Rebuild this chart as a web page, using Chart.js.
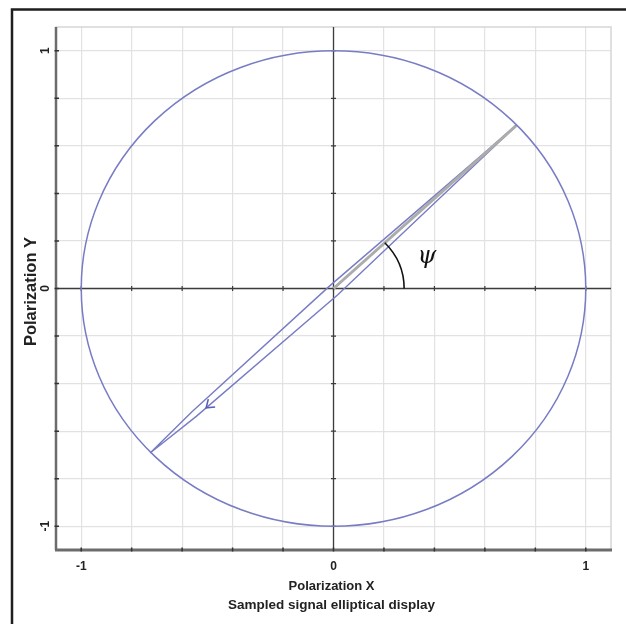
<!DOCTYPE html>
<html>
<head>
<meta charset="utf-8">
<script src="https://cdn.jsdelivr.net/npm/chart.js@4.4.1/dist/chart.umd.min.js"></script>
<style>
  html, body { margin: 0; padding: 0; background: #ffffff; }
  #wrap { width: 626px; height: 624px; }
</style>
</head>
<body>
<div id="wrap"><canvas id="c" width="626" height="624"></canvas></div>
<script>
// Grid / tick values (both axes share the same normalised range)
const gridTicks = [-1, -0.8, -0.6, -0.4, -0.2, 0, 0.2, 0.4, 0.6, 0.8, 1];
const labelTicks = [-1, 0, 1];
const axisRange = [-1.1, 1.1];

// Sampled polarisation trace (closed loop, in traversal order)
const traceX = [0.723, 0.017, -0.544, -0.727, -0.561, -0.015, 0.723];
const traceY = [0.684, -0.026, -0.538, -0.692, -0.518, 0.011, 0.684];

// Orientation vector from origin to the major-axis tip
const vectorX = [0, 0.723];
const vectorY = [0, 0.684];

// Reference unit circle and the psi angle marker
const unitRadius = [1];
const psiRadius = [0.28];
const psiLabelAt = [0.37, 0.135];

// Direction arrow: on trace segment 1, 93% along it
const arrowSegment = [1, 0.93];

const toPoints = (xs, ys) => xs.map((x, i) => ({ x: x, y: ys[i] }));

const traceColor = '#777cc4';
const ink = '#222222';

const decorations = {
  id: 'decorations',
  beforeDraw(chart) {
    const ctx = chart.ctx;
    ctx.save();
    ctx.fillStyle = '#ffffff';
    ctx.fillRect(0, 0, chart.width, chart.height);
    // outer frame (top and left edges)
    ctx.strokeStyle = '#1e1e1e';
    ctx.lineWidth = 2.5;
    ctx.beginPath();
    ctx.moveTo(chart.width, 9.5);
    ctx.lineTo(12, 9.5);
    ctx.lineTo(12, chart.height);
    ctx.stroke();
    ctx.restore();
  },
  beforeDatasetsDraw(chart) {
    const ctx = chart.ctx;
    const xs = chart.scales.x, ys = chart.scales.y;
    const a = chart.chartArea;
    ctx.save();
    // light outline of the plotting area
    ctx.strokeStyle = '#d6d6d6';
    ctx.lineWidth = 1.5;
    ctx.strokeRect(a.left, a.top, a.right - a.left, a.bottom - a.top);

    // zero axes
    const x0 = xs.getPixelForValue(0), y0 = ys.getPixelForValue(0);
    ctx.strokeStyle = '#3c3c3c';
    ctx.lineWidth = 1.3;
    ctx.beginPath();
    ctx.moveTo(a.left, y0); ctx.lineTo(a.right, y0);
    ctx.moveTo(x0, a.top); ctx.lineTo(x0, a.bottom);
    ctx.stroke();
    ctx.lineWidth = 1.2;
    ctx.beginPath();
    gridTicks.forEach(v => {
      const px = xs.getPixelForValue(v), py = ys.getPixelForValue(v);
      ctx.moveTo(px, y0 - 2.5); ctx.lineTo(px, y0 + 2.5);
      ctx.moveTo(x0 - 2.5, py); ctx.lineTo(x0 + 2.5, py);
    });
    ctx.stroke();

    // left and bottom axis lines
    ctx.strokeStyle = '#6c6c6c';
    ctx.lineWidth = 2.5;
    ctx.beginPath();
    ctx.moveTo(a.left, a.top); ctx.lineTo(a.left, a.bottom);
    ctx.stroke();
    ctx.lineWidth = 3;
    ctx.beginPath();
    ctx.moveTo(a.left - 1, a.bottom); ctx.lineTo(a.right + 1, a.bottom);
    ctx.stroke();
    ctx.strokeStyle = '#333333';
    ctx.lineWidth = 1.5;
    ctx.beginPath();
    gridTicks.forEach(v => {
      const px = xs.getPixelForValue(v), py = ys.getPixelForValue(v);
      ctx.moveTo(a.left - 1.5, py); ctx.lineTo(a.left + 3, py);
      ctx.moveTo(px, a.bottom - 2.5); ctx.lineTo(px, a.bottom + 1.5);
    });
    ctx.stroke();

    // reference unit circle
    const rx = xs.getPixelForValue(unitRadius[0]) - x0;
    const ry = y0 - ys.getPixelForValue(unitRadius[0]);
    ctx.strokeStyle = traceColor;
    ctx.lineWidth = 1.5;
    ctx.beginPath();
    ctx.ellipse(x0, y0, rx, ry, 0, 0, Math.PI * 2);
    ctx.stroke();
    ctx.restore();
  },
  afterDatasetsDraw(chart) {
    const ctx = chart.ctx;
    const xs = chart.scales.x, ys = chart.scales.y;
    const x0 = xs.getPixelForValue(0), y0 = ys.getPixelForValue(0);
    ctx.save();

    // direction arrow on the trace
    const i = arrowSegment[0], f = arrowSegment[1];
    const p1x = xs.getPixelForValue(traceX[i]), p1y = ys.getPixelForValue(traceY[i]);
    const p2x = xs.getPixelForValue(traceX[i + 1]), p2y = ys.getPixelForValue(traceY[i + 1]);
    const tx = p1x + (p2x - p1x) * f, ty = p1y + (p2y - p1y) * f;
    const back = Math.atan2(p1y - p2y, p1x - p2x);
    const len = 9, spread = 0.62;
    ctx.strokeStyle = '#5a5fb4';
    ctx.lineWidth = 1.6;
    ctx.beginPath();
    ctx.moveTo(tx + len * Math.cos(back - spread), ty + len * Math.sin(back - spread));
    ctx.lineTo(tx, ty);
    ctx.lineTo(tx + len * Math.cos(back + spread), ty + len * Math.sin(back + spread));
    ctx.stroke();

    // psi angle arc between the x axis and the orientation vector
    const rx = xs.getPixelForValue(psiRadius[0]) - x0;
    const ry = y0 - ys.getPixelForValue(psiRadius[0]);
    const ang = Math.atan2(vectorY[1], vectorX[1]);
    ctx.strokeStyle = '#111111';
    ctx.lineWidth = 1.6;
    ctx.beginPath();
    ctx.ellipse(x0, y0, rx, ry, 0, -ang, 0);
    ctx.stroke();

    ctx.fillStyle = '#111111';
    ctx.font = 'italic 24px "DejaVu Serif"';
    ctx.textAlign = 'center';
    ctx.textBaseline = 'middle';
    ctx.fillText('\u03C8', xs.getPixelForValue(psiLabelAt[0]), ys.getPixelForValue(psiLabelAt[1]));
    ctx.restore();
  },
  afterDraw(chart) {
    const ctx = chart.ctx;
    const xs = chart.scales.x, ys = chart.scales.y;
    const a = chart.chartArea;
    ctx.save();
    ctx.fillStyle = ink;
    ctx.font = 'bold 12px "Liberation Sans", Arial, sans-serif';
    ctx.textAlign = 'center';
    ctx.textBaseline = 'middle';
    labelTicks.forEach(v => {
      ctx.fillText(String(v), xs.getPixelForValue(v), a.bottom + 17);
    });
    labelTicks.forEach(v => {
      ctx.save();
      ctx.translate(a.left - 10, ys.getPixelForValue(v));
      ctx.rotate(-Math.PI / 2);
      ctx.fillText(String(v), 0, 0);
      ctx.restore();
    });
    const cx = xs.getPixelForValue(0) - 2;
    ctx.font = 'bold 13px "Liberation Sans", Arial, sans-serif';
    ctx.fillText('Polarization X', cx, a.bottom + 36);
    ctx.font = 'bold 13.5px "Liberation Sans", Arial, sans-serif';
    ctx.fillText('Sampled signal elliptical display', cx, a.bottom + 55);
    ctx.save();
    ctx.translate(31, ys.getPixelForValue(0) + 3);
    ctx.rotate(-Math.PI / 2);
    ctx.font = 'bold 16.5px "Liberation Sans", Arial, sans-serif';
    ctx.fillText('Polarization Y', 0, 0);
    ctx.restore();
    ctx.restore();
  }
};

const axisOptions = {
  type: 'linear',
  min: axisRange[0],
  max: axisRange[1],
  afterBuildTicks: (scale) => { scale.ticks = gridTicks.map(v => ({ value: v })); },
  ticks: { display: false },
  grid: { color: '#e2e2e2', lineWidth: 1.2, drawTicks: false },
  border: { display: false },
  title: { display: false }
};

new Chart(document.getElementById('c'), {
  type: 'scatter',
  data: {
    datasets: [
      {
        label: 'Orientation',
        data: toPoints(vectorX, vectorY),
        showLine: true,
        borderColor: '#acacac',
        borderWidth: 3,
        pointRadius: 0
      },
      {
        label: 'Orientation core',
        data: toPoints(vectorX, vectorY),
        showLine: true,
        borderColor: '#111111',
        borderWidth: 1.6,
        pointRadius: 0
      },
      {
        label: 'Trace',
        data: toPoints(traceX, traceY),
        showLine: true,
        borderColor: traceColor,
        borderWidth: 1.4,
        pointRadius: 0,
        tension: 0
      }
    ]
  },
  options: {
    responsive: false,
    devicePixelRatio: 1,
    animation: false,
    layout: { padding: { left: 56, top: 27, right: 15, bottom: 74 } },
    plugins: { legend: { display: false }, tooltip: { enabled: false }, title: { display: false } },
    scales: { x: axisOptions, y: Object.assign({}, axisOptions) }
  },
  plugins: [decorations]
});
</script>
</body>
</html>
